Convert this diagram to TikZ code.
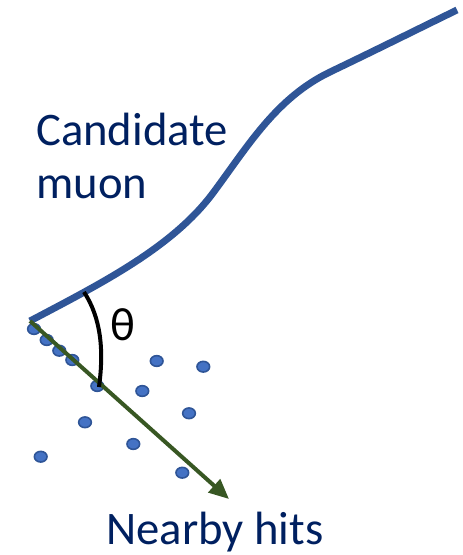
\documentclass[tikz,border=0pt]{standalone}
\usepackage{fontspec}
\setmainfont{Carlito}
\usetikzlibrary{arrows.meta,shapes.geometric}
\definecolor{navytext}{HTML}{002060}
\definecolor{muonblue}{HTML}{2F5597}
\definecolor{dotfill}{HTML}{4472C4}
\definecolor{dotline}{HTML}{2F5597}
\definecolor{arrowgreen}{HTML}{385723}
\tikzset{
  lbl/.style={inner sep=0pt, anchor=base west, text=navytext, font=\fontsize{35}{42}\selectfont},
  hit/.style={ellipse, draw=dotline, fill=dotfill, line width=1.2pt, minimum width=9.5pt, minimum height=8pt, inner sep=0pt},
  muon/.style={draw=muonblue, line width=5.2pt},
  dir/.style={draw=arrowgreen, line width=3pt, -{Triangle[length=15pt,width=13pt]}},
  anglearc/.style={draw=black, line width=3pt}
}
\begin{document}
\begin{tikzpicture}[x=0.75pt,y=-0.75pt]
\useasboundingbox (0,0) rectangle (462,555);
% hits
\foreach \n/\x/\y in {h1/34/329, h2/46.7/340, h3/59.3/350.7, h4/72.3/360, h5/156.7/361, h6/203.3/366.7, h7/97.3/386, h8/142.3/391, h9/189/413.3, h10/85/422.3, h11/133.3/444, h12/40.7/456.7, h13/182.3/472.7}
  \node[hit] (\n) at (\x,\y) {};
% muon track
\coordinate (start) at (30,321);
\coordinate (m1) at (213,193);
\coordinate (m2) at (330,72);
\coordinate (end) at (457,10);
\path[muon] (start) .. controls (100,284) and (172,248) .. (m1)
  .. controls (248,146) and (276,98) .. (m2)
  .. controls (376,50) and (420,28) .. (end);
% direction arrow
\coordinate (tip) at (229,499);
\path[dir] (start) -- (tip);
% angle
\coordinate (a1) at (84,292);
\coordinate (a2) at (99,387);
\path[anglearc] (a1) .. controls (101,318) and (104,350) .. (a2);
\node[inner sep=0pt, anchor=base west, text=black, font=\fontsize{35}{42}\selectfont] (theta) at (110,340) {θ};
% labels
\node[lbl] (cand) at (36,146) {Candidate};
\node[lbl] (muonlbl) at (36,199) {muon};
\node[lbl] (nearby) at (106,544) {Nearby hits};
\end{tikzpicture}
\end{document}
